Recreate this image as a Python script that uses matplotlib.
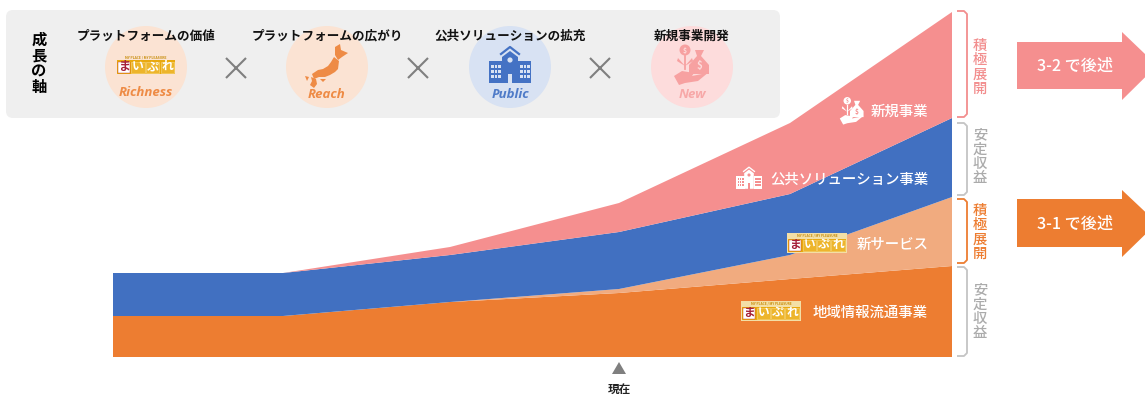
import matplotlib
matplotlib.use("Agg")
import matplotlib.pyplot as plt
from matplotlib.patches import Circle, FancyBboxPatch, Polygon, Rectangle

plt.rcParams['font.family'] = ['Noto Sans CJK JP', 'DejaVu Sans']

# 事業別の積み上げ(高さはピクセル相当の相対値)
periods = [0, 170, 337, 506, 677, 839]
local_info = [41, 41, 55, 64, 78, 91]
new_service = [0, 0, 0, 4, 24, 69]
public_biz = [43, 43, 47, 57, 61, 79]
new_biz = [0, 0, 8, 29, 71, 106]

series_colors = ['#ED7D31', '#F1AB7F', '#4170C1', '#F58F8F']
axis_titles = ['プラットフォームの価値', 'プラットフォームの広がり', '公共ソリューションの拡充', '新規事業開発']
axis_names = ['Richness', 'Reach', 'Public', 'New']
axis_text_colors = ['#EE8B45', '#EE8B45', '#4F7BC8', '#F7A8A8']
axis_circle_colors = ['#FBE3D3', '#FBE3D3', '#D8E2F3', '#FDDCDC']

W, H = 1145, 396
fig = plt.figure(figsize=(W / 100, H / 100), dpi=100, facecolor='white')

# 積み上げ面グラフ
ax = fig.add_axes([113 / W, 1 - 357 / H, 839 / W, 345 / H])
ax.stackplot(periods, local_info, new_service, public_biz, new_biz, colors=series_colors, linewidth=0)
ax.set_xlim(0, 839)
ax.set_ylim(0, 345)
ax.axis('off')

# 装飾用の全面レイヤー(ピクセル座標)
bg = fig.add_axes([0, 0, 1, 1], zorder=3)
bg.set_xlim(0, W)
bg.set_ylim(H, 0)
bg.axis('off')
bg.patch.set_alpha(0)


def logo(cx, cy, w, frame):
    h = w * 0.34
    x0, y0 = cx - w / 2, cy - h / 2
    if frame:
        bg.add_patch(Rectangle((x0, y0), w, h, fc=frame, ec='none'))
    bg.text(cx, y0 + h * 0.14, 'MY PLACE / MY PLEASURE', fontsize=w * 0.04, color='#C98F10',
            ha='center', va='center', fontweight='bold')
    top = y0 + h * 0.28
    bar = h * 0.66
    bg.add_patch(Rectangle((x0 + w * 0.02, top), w * 0.96, bar, fc='#E9A90F', ec='none'))
    bg.add_patch(Rectangle((x0 + w * 0.04, top + bar * 0.08), w * 0.2, bar * 0.84, fc='white', ec='#C0392B', lw=0.3))
    bg.text(x0 + w * 0.14, top + bar * 0.45, 'ま', fontsize=w * 0.14, color='#A5203A',
            ha='center', va='center', fontweight='bold')
    for i, ch in enumerate('いぷれ'):
        bx = x0 + w * (0.26 + 0.24 * i)
        bg.add_patch(Rectangle((bx, top + bar * 0.08), w * 0.22, bar * 0.84, fc='#EDB52C', ec='#F6D98A', lw=0.4))
        bg.text(bx + w * 0.11, top + bar * 0.45, ch, fontsize=w * 0.14, color='white',
                ha='center', va='center', fontweight='bold')


def japan(cx, cy, col):
    shapes = [
        [(8, -20), (13, -23), (14, -17), (21, -14), (15, -10), (11, -7), (8, -12)],
        [(7, -10), (12, -6), (11, 2), (8, 5), (3, 8), (-2, 10), (-8, 10), (-13, 12), (-15, 7),
         (-9, 3), (-4, 2), (1, -1), (4, -5)],
        [(-7, 12), (-1, 12), (-4, 15)],
        [(-16, 10), (-11, 12), (-10, 17), (-13, 21), (-17, 18), (-15, 14)],
        [(-22, 9), (-18, 10), (-20, 14)],
    ]
    for pts in shapes:
        bg.add_patch(Polygon([(cx + x, cy + y) for x, y in pts], fc=col, ec='none'))


def building(cx, cy, s, col, hole):
    def px(x, y):
        return cx + x * s, cy + y * s
    bg.add_patch(Polygon([px(-21, -4), px(-7, -4), px(-7, 18), px(-21, 18)], fc=col, ec='none'))
    bg.add_patch(Polygon([px(8, -4), px(21, -4), px(21, 18), px(8, 18)], fc=col, ec='none'))
    bg.add_patch(Polygon([px(-8, -8), px(0, -14), px(8, -8), px(8, 18), px(-8, 18)], fc=col, ec='none'))
    bg.plot(*zip(px(-9, -11), px(0, -18), px(9, -11)), color=col, lw=1.6 * s)
    for row in range(3):
        for colm in range(3):
            for side in (-19, 10):
                x, y = px(side + colm * 3.7, 0 + row * 5)
                bg.add_patch(Rectangle((x, y), 2.5 * s, 3.2 * s, fc=hole, ec='none'))
    x, y = px(-2, 9)
    bg.add_patch(Rectangle((x, y), 4 * s, 9 * s, fc=hole, ec='none'))
    bg.add_patch(Circle(px(0, -5), 2.6 * s, fc=hole, ec='none'))


def money(cx, cy, s, col, hole):
    def px(x, y):
        return cx + x * s, cy + y * s
    bg.add_patch(Circle(px(-7, -15), 5.5 * s, fc=col, ec='none'))
    bg.plot(*zip(px(-7, -9), px(-7, 4)), color=col, lw=1.3 * s)
    bg.add_patch(Polygon([px(-7, 1), px(-15, -4), px(-14, -7)], fc=col, ec='none'))
    bg.add_patch(Polygon([px(-7, 1), px(1, -4), px(0, -7)], fc=col, ec='none'))
    bg.add_patch(Polygon([px(3, -15), px(12, -15), px(9, -9), px(17, 0), px(17, 9), px(-3, 9),
                          px(-3, 0), px(5, -9)], fc=col, ec='none'))
    bg.text(*px(7, 1), '$', fontsize=7 * s, color=hole, ha='center', va='center', fontweight='bold')
    bg.text(*px(-7, -15), '$', fontsize=5 * s, color=hole, ha='center', va='center', fontweight='bold')
    bg.add_patch(Polygon([px(-18, 11), px(-10, 6), px(2, 8), px(0, 11), px(10, 9), px(17, 7),
                          px(6, 16), px(-7, 18), px(-13, 20)], fc=col, ec='none'))


def bracket(y0, y1, col):
    xs = [957, 964, 967, 967, 964, 957]
    ys = [y0, y0, y0 + 3, y1 - 3, y1, y1]
    bg.plot(xs, ys, color=col, lw=1.3, solid_capstyle='butt')


def vertical(x, y0, text, col, size=10.3, step=14.4, weight=500):
    for i, ch in enumerate(text):
        bg.text(x, y0 + i * step, ch, fontsize=size, color=col, ha='center', va='center', fontweight=weight)


def arrow(y0, y1, top, bottom, col, label):
    mid = (y0 + y1) / 2
    pts = [(1017, y0), (1122, y0), (1122, top), (1157, mid), (1122, bottom), (1122, y1), (1017, y1)]
    bg.add_patch(Polygon(pts, fc=col, ec='none'))
    bg.text(1075, mid + 1, label, fontsize=11.6, color='white', ha='center', va='center', fontweight=500)


# 成長の軸パネル
bg.add_patch(FancyBboxPatch((6, 10), 774, 108, boxstyle='round,pad=0,rounding_size=7', fc='#EFEFEF', ec='none',
                            zorder=0))
vertical(39, 40, '成長の軸', 'black', size=11, step=15.8, weight='bold')

centers = [146, 327, 510, 692]
name_y = [92, 94.5, 94, 95]
for cx, title, name, tcol, ccol, ny in zip(centers, axis_titles, axis_names, axis_text_colors, axis_circle_colors, name_y):
    bg.add_patch(Circle((cx, 67), 41, fc=ccol, ec='none', zorder=1))
    bg.text(cx, 36, title, fontsize=9.05, color='#111111', ha='center', va='center', fontweight='bold', zorder=6)
    bg.text(cx, ny, name, fontsize=9.5, color=tcol, ha='center', va='center', style='italic', fontweight='bold',
            family='Open Sans', zorder=6)

bg.plot([236, 418, 600], [68, 68, 68], ls='none', marker='x', ms=14.5, mew=1.5, color='#7F7F7F')

logo(146, 65, 61, None)
japan(327, 67, '#EE8B45')
building(510, 65, 1.0, '#4472C4', '#D8E2F3')
money(692, 65, 1.0, '#F7A1A1', '#FDDCDC')

# グラフ内ラベル
label_font = dict(fontsize=10.4, color='white', ha='right', va='center', fontweight=500)
bg.text(928, 111.5, '新規事業', **label_font)
bg.text(928, 179.5, '公共ソリューション事業', **label_font)
bg.text(929, 244.5, '新サービス', **label_font)
bg.text(928, 312.5, '地域情報流通事業', **label_font)
money(852, 111, 0.68, 'white', '#F58F8F')
building(749, 178, 0.6, 'white', '#F58F8F')
logo(817, 243, 60, '#F3DFA6')
logo(771, 311, 60, '#F3DFA6')

# 右側の区分
bracket(11, 117, '#F28E8E')
bracket(123, 195, '#C4C4C4')
bracket(199, 263, '#ED7D31')
bracket(267, 356, '#C4C4C4')
vertical(980, 46, '積極展開', '#F28E8E')
vertical(980, 135, '安定収益', '#ABABAB')
vertical(980, 211, '積極展開', '#ED7D31')
vertical(980, 290, '安定収益', '#ABABAB')

arrow(42, 89, 32, 100, '#F58F8F', '3-2 で後述')
arrow(199, 247, 190, 257, '#ED7D31', '3-1 で後述')

# 現在位置
bg.add_patch(Polygon([(612, 374), (619, 362), (626, 374)], fc='#7F7F7F', ec='none'))
bg.text(619, 389.5, '現在', fontsize=8.4, color='#222222', ha='center', va='center', fontweight='bold')

fig.savefig('out.png', dpi=100, facecolor='white')
